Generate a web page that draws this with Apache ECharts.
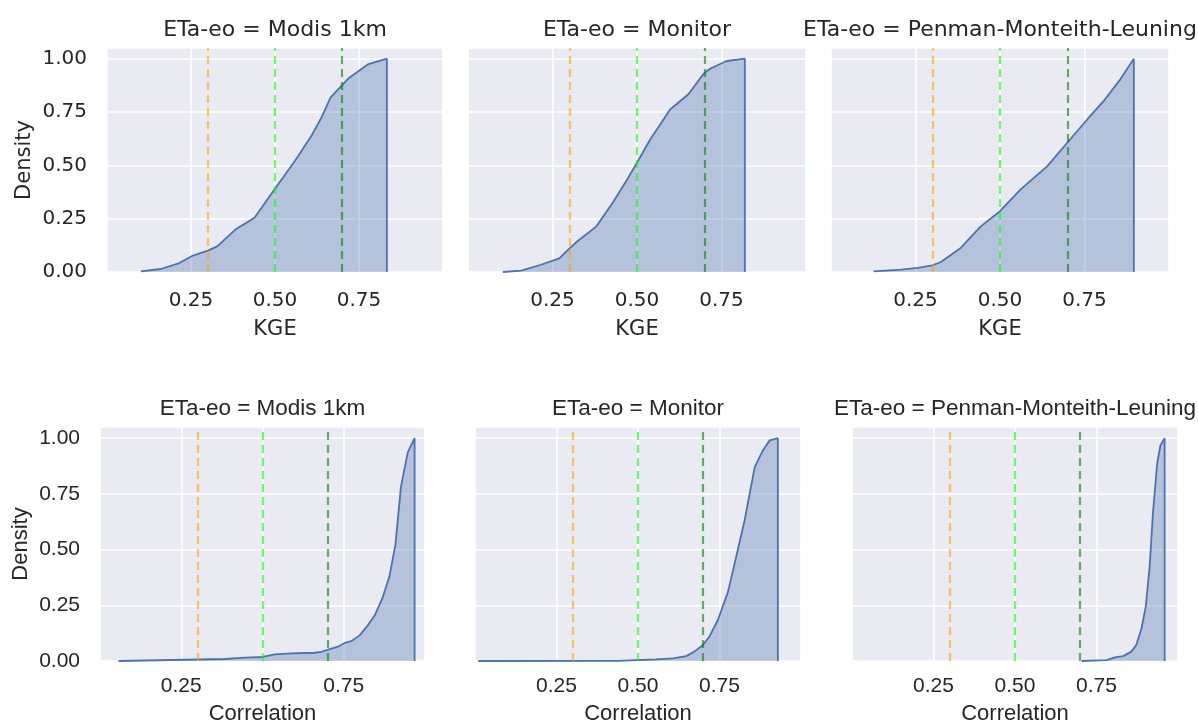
<!DOCTYPE html>
<html>
<head>
<meta charset="utf-8">
<script src="https://cdn.jsdelivr.net/npm/echarts@6/dist/echarts.min.js"></script>
<style>
  html, body { margin: 0; padding: 0; background: #ffffff; }
  #chart { width: 1198px; height: 726px; }
</style>
</head>
<body>
<div id="chart"></div>
<script>
// Cumulative KDE curves [value, cumulative density] per ET product and metric
const kgeModis = [
  [0.101, 0.003], [0.160, 0.014], [0.215, 0.042], [0.252, 0.074], [0.300, 0.100],
  [0.328, 0.120], [0.382, 0.199], [0.439, 0.254], [0.500, 0.390], [0.559, 0.520],
  [0.608, 0.637], [0.638, 0.723], [0.665, 0.817], [0.699, 0.875], [0.721, 0.911],
  [0.776, 0.973], [0.833, 1.000], [0.833, 0.000]
];
const kgeMonitor = [
  [0.103, 0.000], [0.157, 0.006], [0.216, 0.034], [0.270, 0.064], [0.302, 0.113],
  [0.324, 0.144], [0.380, 0.214], [0.431, 0.332], [0.471, 0.434], [0.500, 0.512],
  [0.539, 0.621], [0.598, 0.762], [0.652, 0.833], [0.698, 0.931], [0.716, 0.953],
  [0.765, 0.989], [0.819, 1.000], [0.819, 0.000]
];
const kgePml = [
  [0.126, 0.003], [0.207, 0.011], [0.256, 0.019], [0.300, 0.031], [0.325, 0.047],
  [0.384, 0.113], [0.443, 0.214], [0.500, 0.285], [0.561, 0.387], [0.640, 0.496],
  [0.699, 0.606], [0.758, 0.715], [0.809, 0.806], [0.856, 0.903], [0.896, 1.000],
  [0.896, 0.000]
];
const corrModis = [
  [0.057, 0.000], [0.384, 0.009], [0.446, 0.015], [0.500, 0.018], [0.538, 0.030],
  [0.589, 0.034], [0.661, 0.037], [0.681, 0.041], [0.712, 0.056], [0.732, 0.064],
  [0.753, 0.081], [0.773, 0.089], [0.799, 0.115], [0.824, 0.160], [0.845, 0.204],
  [0.870, 0.286], [0.891, 0.382], [0.909, 0.522], [0.926, 0.781], [0.947, 0.936],
  [0.968, 1.000], [0.968, 0.000]
];
const corrMonitor = [
  [0.010, 0.000], [0.438, 0.001], [0.555, 0.007], [0.607, 0.012], [0.648, 0.022],
  [0.673, 0.042], [0.699, 0.072], [0.719, 0.109], [0.745, 0.184], [0.776, 0.310],
  [0.801, 0.467], [0.827, 0.631], [0.858, 0.870], [0.883, 0.945], [0.904, 0.990],
  [0.929, 1.000], [0.929, 0.000]
];
const corrPml = [
  [0.704, 0.000], [0.781, 0.004], [0.806, 0.016], [0.832, 0.022], [0.857, 0.042],
  [0.872, 0.072], [0.888, 0.146], [0.901, 0.243], [0.913, 0.422], [0.923, 0.661],
  [0.936, 0.885], [0.946, 0.967], [0.959, 1.000], [0.959, 0.000]
];

// Panel titles, axis names and reference thresholds
const productTitles = ['ETa-eo = Modis 1km', 'ETa-eo = Monitor', 'ETa-eo = Penman-Monteith-Leuning'];
const metricNames = ['KGE', 'Correlation'];
const yAxisName = 'Density';
const thresholdValues = [0.3, 0.5, 0.7];
const thresholdColors = ['rgba(255,165,0,0.6)', 'rgba(0,255,0,0.6)', 'rgba(0,128,0,0.6)'];

const curveRows = [
  [kgeModis, kgeMonitor, kgePml],
  [corrModis, corrMonitor, corrPml]
];

// Layout of the 2 x 3 facet grid (pixels)
const rowLayout = [
  { top: 48, height: 224, lefts: [107, 468, 831], widths: [336, 338, 338],
    font: 'DejaVu Sans', titleSize: 22, tickSize: 20, nameSize: 21,
    titleY: 30, tickMargin: 19, xNameGap: 47, yNameGap: 72 },
  { top: 427, height: 236, lefts: [100, 475, 852], widths: [325, 326, 326],
    font: 'Liberation Sans', titleSize: 22.5, tickSize: 21, nameSize: 22,
    titleY: 409, tickMargin: 15, xNameGap: 42, yNameGap: 68 }
];

const textColor = '#262626';
const grids = [], xAxes = [], yAxes = [], series = [], graphics = [];

curveRows.forEach((row, r) => {
  const L = rowLayout[r];
  row.forEach((curve, c) => {
    const idx = grids.length;
    grids.push({
      left: L.lefts[c], top: L.top, width: L.widths[c], height: L.height,
      show: true, backgroundColor: '#EAEAF2', borderWidth: 0
    });
    xAxes.push({
      type: 'value', gridIndex: idx, min: 0, max: 1, interval: 0.25,
      name: metricNames[r], nameLocation: 'middle', nameGap: L.xNameGap,
      nameTextStyle: { fontFamily: L.font, fontSize: L.nameSize, color: textColor },
      axisLine: { show: false }, axisTick: { show: false },
      axisLabel: {
        fontFamily: L.font, fontSize: L.tickSize, color: textColor, margin: L.tickMargin,
        showMinLabel: false, showMaxLabel: false,
        formatter: v => v.toFixed(2)
      },
      splitLine: { show: true, lineStyle: { color: '#ffffff', width: 1.6 } }
    });
    yAxes.push({
      type: 'value', gridIndex: idx, min: 0, max: 1.05, interval: 0.25,
      name: c === 0 ? yAxisName : '', nameLocation: 'middle', nameGap: L.yNameGap,
      nameTextStyle: { fontFamily: L.font, fontSize: L.nameSize, color: textColor },
      axisLine: { show: false }, axisTick: { show: false },
      axisLabel: {
        show: c === 0, fontFamily: L.font, fontSize: L.tickSize, color: textColor, margin: 20,
        showMaxLabel: false,
        formatter: v => v.toFixed(2)
      },
      splitLine: { show: true, lineStyle: { color: '#ffffff', width: 1.6 } }
    });
    series.push({
      type: 'line', xAxisIndex: idx, yAxisIndex: idx, data: curve,
      showSymbol: false, symbol: 'none', smooth: false, silent: true,
      lineStyle: { color: '#4C72B0', width: 1.8 },
      areaStyle: { color: 'rgba(76,114,176,0.48)', origin: 'start' },
      markLine: {
        silent: true, symbol: 'none', label: { show: false },
        data: thresholdValues.map((v, k) => ({
          xAxis: v,
          lineStyle: { color: thresholdColors[k], type: [8, 5], width: 2.2 }
        }))
      },
      z: 3
    });
    graphics.push({
      type: 'text',
      x: L.lefts[c] + L.widths[c] / 2, y: L.titleY,
      style: {
        text: productTitles[c], fontFamily: L.font, fontSize: L.titleSize, fill: textColor,
        align: 'center', verticalAlign: 'middle'
      }
    });
  });
});

const chart = echarts.init(document.getElementById('chart'), null, { renderer: 'canvas' });
chart.setOption({
  animation: false,
  backgroundColor: '#ffffff',
  grid: grids,
  xAxis: xAxes,
  yAxis: yAxes,
  series: series,
  graphic: graphics
});
</script>
</body>
</html>
